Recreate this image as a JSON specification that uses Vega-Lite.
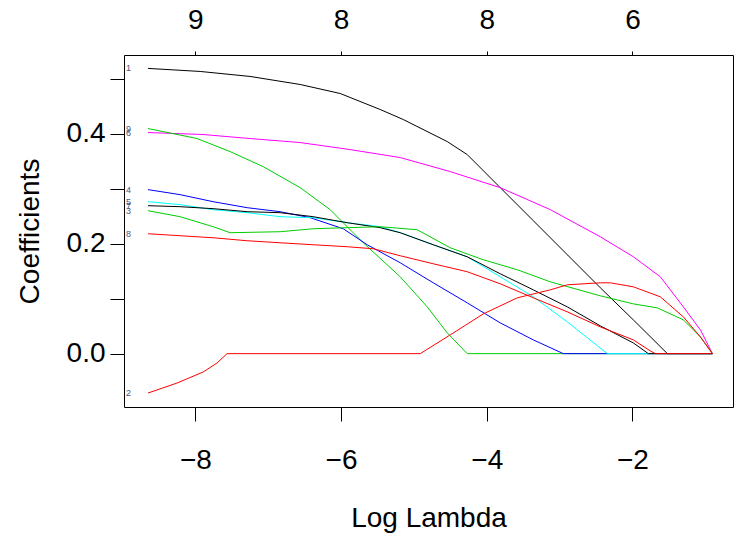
{
  "$schema": "https://vega.github.io/schema/vega-lite/v6.json",
  "width": 609,
  "height": 352,
  "autosize": "none",
  "padding": {"left": 124, "top": 55, "right": 10, "bottom": 129},
  "background": "white",
  "config": {
    "view": {"stroke": "black", "strokeWidth": 1},
    "font": "Liberation Sans",
    "axis": {
      "grid": false, "domain": false,
      "tickColor": "black", "tickWidth": 1,
      "labelColor": "black", "titleColor": "black",
      "labelFont": "Liberation Sans", "titleFont": "Liberation Sans",
      "labelFontSize": 28, "titleFontSize": 28, "titleFontWeight": "normal"
    }
  },
  "datasets": {
    "paths": [
      {"v":"1","x":-8.650,"y":0.5186},{"v":"1","x":-7.935,"y":0.5131},{"v":"1","x":-7.249,"y":0.5040},{"v":"1","x":-6.562,"y":0.4894},{"v":"1","x":-6.012,"y":0.4730},{"v":"1","x":-5.463,"y":0.4439},{"v":"1","x":-5.147,"y":0.4257},{"v":"1","x":-4.543,"y":0.3856},{"v":"1","x":-4.268,"y":0.3619},{"v":"1","x":-3.815,"y":0.3018},{"v":"1","x":-3.361,"y":0.2417},{"v":"1","x":-2.894,"y":0.1798},{"v":"1","x":-2.441,"y":0.1197},{"v":"1","x":-1.988,"y":0.0614},{"v":"1","x":-1.521,"y":0.0},{"v":"1","x":-0.902,"y":0.0},

      {"v":"6","x":-8.650,"y":0.4020},{"v":"6","x":-7.894,"y":0.3984},{"v":"6","x":-7.249,"y":0.3911},{"v":"6","x":-6.562,"y":0.3838},{"v":"6","x":-5.875,"y":0.3710},{"v":"6","x":-5.188,"y":0.3565},{"v":"6","x":-4.501,"y":0.3310},{"v":"6","x":-3.815,"y":0.3018},{"v":"6","x":-3.128,"y":0.2618},{"v":"6","x":-2.441,"y":0.2125},{"v":"6","x":-1.988,"y":0.1761},{"v":"6","x":-1.617,"y":0.1397},{"v":"6","x":-1.301,"y":0.0850},{"v":"6","x":-1.067,"y":0.0431},{"v":"6","x":-0.902,"y":0.0},

      {"v":"9","x":-8.650,"y":0.4093},{"v":"9","x":-7.977,"y":0.3911},{"v":"9","x":-7.523,"y":0.3674},{"v":"9","x":-7.070,"y":0.3401},{"v":"9","x":-6.562,"y":0.3018},{"v":"9","x":-6.150,"y":0.2618},{"v":"9","x":-5.696,"y":0.2016},{"v":"9","x":-5.188,"y":0.1397},{"v":"9","x":-4.817,"y":0.0850},{"v":"9","x":-4.543,"y":0.0377},{"v":"9","x":-4.268,"y":0.0},{"v":"9","x":-0.902,"y":0.0},

      {"v":"4","x":-8.650,"y":0.2982},{"v":"4","x":-8.210,"y":0.2891},{"v":"4","x":-7.757,"y":0.2763},{"v":"4","x":-7.290,"y":0.2654},{"v":"4","x":-6.837,"y":0.2581},{"v":"4","x":-6.424,"y":0.2472},{"v":"4","x":-5.971,"y":0.2271},{"v":"4","x":-5.641,"y":0.1980},{"v":"4","x":-5.188,"y":0.1652},{"v":"4","x":-4.735,"y":0.1288},{"v":"4","x":-4.268,"y":0.0923},{"v":"4","x":-3.815,"y":0.0559},{"v":"4","x":-3.361,"y":0.0250},{"v":"4","x":-2.949,"y":0.0},{"v":"4","x":-0.902,"y":0.0},

      {"v":"5","x":-8.650,"y":0.2763},{"v":"5","x":-8.210,"y":0.2709},{"v":"5","x":-7.757,"y":0.2618},{"v":"5","x":-7.290,"y":0.2563},{"v":"5","x":-6.837,"y":0.2490},{"v":"5","x":-6.383,"y":0.2472},{"v":"5","x":-5.916,"y":0.2381},{"v":"5","x":-5.463,"y":0.2308},{"v":"5","x":-5.188,"y":0.2199},{"v":"5","x":-4.735,"y":0.1980},{"v":"5","x":-4.268,"y":0.1761},{"v":"5","x":-3.815,"y":0.1397},{"v":"5","x":-3.361,"y":0.1033},{"v":"5","x":-2.894,"y":0.0577},{"v":"5","x":-2.345,"y":0.0},{"v":"5","x":-0.902,"y":0.0},

      {"v":"7","x":-8.650,"y":0.2690},{"v":"7","x":-8.210,"y":0.2672},{"v":"7","x":-7.757,"y":0.2636},{"v":"7","x":-7.290,"y":0.2581},{"v":"7","x":-6.837,"y":0.2563},{"v":"7","x":-6.383,"y":0.2490},{"v":"7","x":-5.916,"y":0.2381},{"v":"7","x":-5.463,"y":0.2290},{"v":"7","x":-5.188,"y":0.2199},{"v":"7","x":-4.735,"y":0.1980},{"v":"7","x":-4.268,"y":0.1761},{"v":"7","x":-3.815,"y":0.1452},{"v":"7","x":-3.361,"y":0.1160},{"v":"7","x":-2.894,"y":0.0850},{"v":"7","x":-2.441,"y":0.0505},{"v":"7","x":-1.988,"y":0.0195},{"v":"7","x":-1.782,"y":0.0},{"v":"7","x":-0.902,"y":0.0},

      {"v":"3","x":-8.650,"y":0.2599},{"v":"3","x":-8.210,"y":0.2490},{"v":"3","x":-7.757,"y":0.2308},{"v":"3","x":-7.523,"y":0.2199},{"v":"3","x":-6.837,"y":0.2217},{"v":"3","x":-6.383,"y":0.2271},{"v":"3","x":-5.916,"y":0.2290},{"v":"3","x":-5.463,"y":0.2308},{"v":"3","x":-4.955,"y":0.2253},{"v":"3","x":-4.501,"y":0.1925},{"v":"3","x":-4.048,"y":0.1707},{"v":"3","x":-3.581,"y":0.1525},{"v":"3","x":-3.128,"y":0.1306},{"v":"3","x":-2.441,"y":0.1051},{"v":"3","x":-1.988,"y":0.0905},{"v":"3","x":-1.658,"y":0.0832},{"v":"3","x":-1.301,"y":0.0614},{"v":"3","x":-1.067,"y":0.0304},{"v":"3","x":-0.902,"y":0.0},

      {"v":"8","x":-8.650,"y":0.2180},{"v":"8","x":-8.210,"y":0.2144},{"v":"8","x":-7.757,"y":0.2107},{"v":"8","x":-7.290,"y":0.2053},{"v":"8","x":-6.837,"y":0.2016},{"v":"8","x":-6.383,"y":0.1980},{"v":"8","x":-5.916,"y":0.1944},{"v":"8","x":-5.559,"y":0.1907},{"v":"8","x":-5.188,"y":0.1780},{"v":"8","x":-4.735,"y":0.1634},{"v":"8","x":-4.268,"y":0.1489},{"v":"8","x":-3.815,"y":0.1270},{"v":"8","x":-3.361,"y":0.1015},{"v":"8","x":-2.894,"y":0.0760},{"v":"8","x":-2.441,"y":0.0486},{"v":"8","x":-1.988,"y":0.0250},{"v":"8","x":-1.754,"y":0.0049},{"v":"8","x":-1.685,"y":0.0},{"v":"8","x":-0.902,"y":0.0},

      {"v":"2","x":-8.650,"y":-0.0716},{"v":"2","x":-8.251,"y":-0.0534},{"v":"2","x":-7.894,"y":-0.0334},{"v":"2","x":-7.702,"y":-0.0169},{"v":"2","x":-7.565,"y":0.0},{"v":"2","x":-4.913,"y":0.0},{"v":"2","x":-4.501,"y":0.0341},{"v":"2","x":-4.048,"y":0.0723},{"v":"2","x":-3.581,"y":0.1015},{"v":"2","x":-3.128,"y":0.1160},{"v":"2","x":-2.894,"y":0.1252},{"v":"2","x":-2.441,"y":0.1288},{"v":"2","x":-2.304,"y":0.1288},{"v":"2","x":-1.988,"y":0.1215},{"v":"2","x":-1.617,"y":0.1033},{"v":"2","x":-1.301,"y":0.0668},{"v":"2","x":-1.067,"y":0.0304},{"v":"2","x":-0.902,"y":0.0}
    ],
    "labels": [
      {"v":"1","x":-8.98,"y":0.5186},
      {"v":"6","x":-8.98,"y":0.4020},
      {"v":"9","x":-8.98,"y":0.4093},
      {"v":"4","x":-8.98,"y":0.2982},
      {"v":"5","x":-8.98,"y":0.2763},
      {"v":"7","x":-8.98,"y":0.2690},
      {"v":"3","x":-8.98,"y":0.2599},
      {"v":"8","x":-8.98,"y":0.2180},
      {"v":"2","x":-8.98,"y":-0.0716}
    ]
  },
  "layer": [
    {
      "data": {"name": "paths"},
      "mark": {"type": "line", "strokeWidth": 1, "clip": true},
      "encoding": {
        "x": {
          "field": "x", "type": "quantitative",
          "scale": {"domain": [-8.98, -0.62], "nice": false, "zero": false},
          "axis": {"values": [-8, -6, -4, -2], "format": "d", "tickSize": 14, "labelPadding": 25, "title": "Log Lambda", "titlePadding": 30}
        },
        "y": {
          "field": "y", "type": "quantitative",
          "scale": {"domain": [-0.097, 0.543], "nice": false, "zero": false},
          "axis": {"values": [0, 0.1, 0.2, 0.3, 0.4, 0.5], "tickSize": 14, "labelPadding": 5,
                   "labelExpr": "datum.value == 0 ? '0.0' : (abs(datum.value - 0.2) < 0.001 ? '0.2' : (abs(datum.value - 0.4) < 0.001 ? '0.4' : ''))",
                   "title": "Coefficients", "titlePadding": 22}
        },
        "color": {
          "field": "v", "type": "nominal",
          "scale": {"domain": ["1","2","3","4","5","6","7","8","9"],
                    "range": ["#000000","#FF0000","#00CD00","#0000FF","#00FFFF","#FF00FF","#000000","#FF0000","#00CD00"]},
          "legend": null
        },
        "detail": {"field": "v"}
      }
    },
    {
      "data": {"name": "labels"},
      "mark": {"type": "text", "align": "left", "baseline": "middle", "dx": 2, "fontSize": 9, "color": "#4f5577"},
      "encoding": {
        "x": {
          "field": "x", "type": "quantitative",
          "scale": {"domain": [-8.98, -0.62], "nice": false, "zero": false},
          "axis": {"orient": "top", "values": [-8, -6, -4, -2], "tickSize": 4, "labelPadding": 17, "title": null,
                   "labelExpr": "datum.value == -8 ? '9' : (datum.value == -2 ? '6' : '8')"}
        },
        "y": {"field": "y", "type": "quantitative", "scale": {"domain": [-0.097, 0.543], "nice": false, "zero": false}},
        "text": {"field": "v"}
      }
    }
  ],
  "resolve": {"axis": {"x": "independent"}}
}
